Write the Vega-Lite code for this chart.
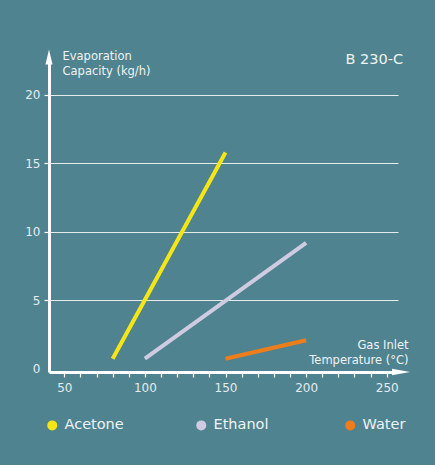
{
  "$schema": "https://vega.github.io/schema/vega-lite/v6.json",
  "width": 349,
  "height": 315,
  "autosize": {"type": "none"},
  "padding": {"left": 49, "top": 57, "right": 37, "bottom": 93},
  "background": "#508390",
  "config": {"view": {"stroke": null}, "font": "DejaVu Sans"},
  "title": {"text": "B 230-C", "anchor": "end", "orient": "top", "offset": 0, "dy": 32, "dx": -7, "fontSize": 14.5, "fontWeight": "normal", "color": "#eef3f4", "baseline": "bottom"},
  "layer": [
    {
      "data": {"values": [
        {"substance": "Acetone", "temp": 80, "capacity": 0.75},
        {"substance": "Acetone", "temp": 150, "capacity": 15.8},
        {"substance": "Ethanol", "temp": 100, "capacity": 0.75},
        {"substance": "Ethanol", "temp": 200, "capacity": 9.2},
        {"substance": "Water", "temp": 150, "capacity": 0.75},
        {"substance": "Water", "temp": 200, "capacity": 2.1}
      ]},
      "mark": {"type": "line", "strokeWidth": 4, "strokeCap": "butt"},
      "encoding": {
        "x": {"field": "temp", "type": "quantitative",
          "scale": {"domain": [40.5, 257], "nice": false, "zero": false},
          "axis": {"title": ["Gas Inlet", "Temperature (°C)"], "titleAlign": "right", "titleAnchor": null, "titleX": 359, "titleY": -24, "titleBaseline": "alphabetic", "titleFontSize": 11.5, "titleFontWeight": "normal", "titleColor": "#eef3f4", "titleLineHeight": 15,
            "values": [50,60,70,80,90,100,110,120,130,140,150,160,170,180,190,200,210,220,230,240,250],
            "tickCount": 50,
            "labelExpr": "datum.value % 50 == 0 ? datum.label : ''",
            "labelOverlap": false,
            "tickSize": 5, "tickWidth": 1.2, "tickColor": "#ffffff", "domainColor": "#ffffff", "domainWidth": 3,
            "labelFontSize": 12, "labelColor": "#e3ecee", "labelPadding": 5, "grid": false, "labelFlush": false}},
        "y": {"field": "capacity", "type": "quantitative",
          "scale": {"domain": [-0.22, 22.77], "nice": false, "zero": false},
          "axis": {"title": ["Evaporation", "Capacity (kg/h)"], "titleAngle": 0, "titleAlign": "left", "titleAnchor": null, "titleX": 13, "titleY": 2, "titleBaseline": "alphabetic", "titleFontSize": 11.5, "titleFontWeight": "normal", "titleColor": "#eef3f4", "titleLineHeight": 15,
            "values": [0, 5, 10, 15, 20],
            "tickCount": 20,
            "grid": true,
            "gridColor": {"condition": {"test": "datum.value === 0", "value": "transparent"}, "value": "#ffffff"},
            "gridOpacity": 0.85, "gridWidth": 1.2,
            "tickSize": 5, "tickWidth": 1.2,
            "tickColor": {"condition": {"test": "datum.value === 0", "value": "transparent"}, "value": "#ffffff"},
            "domainColor": "#ffffff", "domainWidth": 3,
            "labelFontSize": 12, "labelColor": "#e3ecee", "labelPadding": 4}},
        "color": {"field": "substance", "type": "nominal",
          "scale": {"domain": ["Acetone", "Ethanol", "Water"], "range": ["#f5e617", "#cfcbe2", "#ee7d1c"]},
          "legend": {"orient": "none", "legendX": -4, "legendY": 361, "direction": "horizontal", "columns": 3, "title": null,
            "symbolType": "circle", "symbolSize": 100, "symbolStrokeWidth": 0,
            "labelFontSize": 14.5, "labelColor": "#eef3f4", "labelOffset": 5, "columnPadding": 70, "gridAlign": "all",
            "encode": {"symbols": {"update": {"fill": {"scale": "color", "field": "value"}, "opacity": {"value": 1}}}}}}
      }
    },
    {
      "data": {"values": [{"temp": 40.5, "capacity": 22.77}]},
      "mark": {"type": "point", "shape": "M0,-1L0.47,1L-0.47,1Z", "size": 225, "filled": true, "color": "#ffffff", "opacity": 1},
      "encoding": {
        "x": {"field": "temp", "type": "quantitative"},
        "y": {"field": "capacity", "type": "quantitative"}
      }
    },
    {
      "data": {"values": [{"temp": 258.9, "capacity": -0.22}]},
      "mark": {"type": "point", "shape": "M1,0L-1,0.35L-1,-0.35Z", "size": 324, "filled": true, "color": "#ffffff", "opacity": 1, "clip": false},
      "encoding": {
        "x": {"field": "temp", "type": "quantitative"},
        "y": {"field": "capacity", "type": "quantitative"}
      }
    }
  ]
}
